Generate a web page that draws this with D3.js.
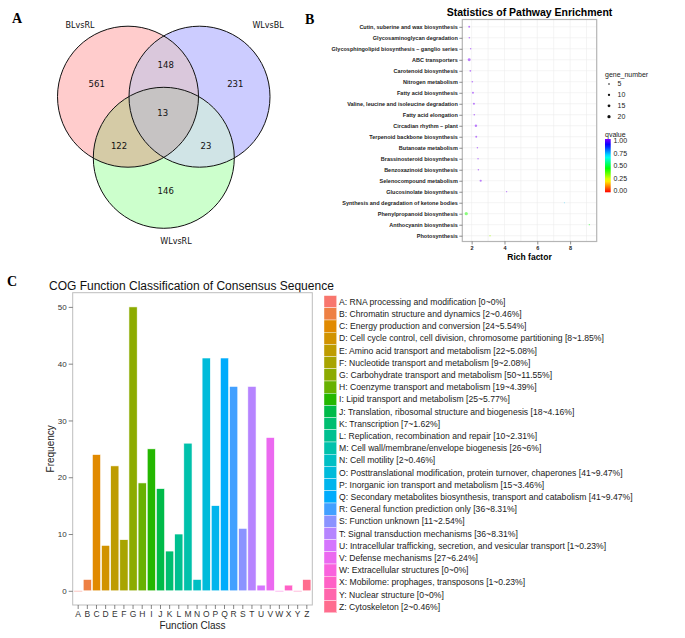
<!DOCTYPE html>
<html>
<head>
<meta charset="utf-8">
<script src="https://cdn.jsdelivr.net/npm/d3@7"></script>
<style>
  body { margin: 0; background: #fff; }
  svg { display: block; }
</style>
</head>
<body>
<script>
// ---- Panel A: Venn counts ----
const vennSets = ["BLvsRL", "WLvsBL", "WLvsRL"];
const vennRegions = ["BLvsRL", "BLvsRL&WLvsBL", "WLvsBL", "all", "BLvsRL&WLvsRL", "WLvsBL&WLvsRL", "WLvsRL"];
const vennCounts = [561, 148, 231, 13, 122, 23, 146];

// ---- Panel B: pathway enrichment ----
const pathways = [
  "Cutin, suberine and wax biosynthesis",
  "Glycosaminoglycan degradation",
  "Glycosphingolipid biosynthesis \u2013 ganglio series",
  "ABC transporters",
  "Carotenoid biosynthesis",
  "Nitrogen metabolism",
  "Fatty acid biosynthesis",
  "Valine, leucine and isoleucine degradation",
  "Fatty acid elongation",
  "Circadian rhythm \u2013 plant",
  "Terpenoid backbone biosynthesis",
  "Butanoate metabolism",
  "Brassinosteroid biosynthesis",
  "Benzoxazinoid biosynthesis",
  "Selenocompound metabolism",
  "Glucosinolate biosynthesis",
  "Synthesis and degradation of ketone bodies",
  "Phenylpropanoid biosynthesis",
  "Anthocyanin biosynthesis",
  "Photosynthesis"
];
const richFactor = [1.85, 1.86, 1.94, 1.85, 1.92, 2.04, 2.08, 2.14, 2.16, 2.26, 2.28, 2.35, 2.39, 2.41, 2.55, 4.13, 7.65, 1.67, 9.17, 3.12];
const geneNumber = [7, 5, 4, 16, 6, 5, 7, 8, 5, 11, 7, 4, 4, 4, 9, 3, 2, 20, 3, 5];
const qvalue = [1, 1, 1, 1, 1, 1, 1, 1, 1, 1, 1, 1, 1, 1, 1, 1, 0.72, 0.42, 0.45, 0.3];
const richTicks = [2, 4, 6, 8];
const sizeLegend = [5, 10, 15, 20];
const qTicks = [0, 0.25, 0.5, 0.75, 1];

// ---- Panel C: COG classes ----
const cogLetters = "ABCDEFGHIJKLMNOPQRSTUVWXYZ".split("");
const cogNames = [
  "RNA processing and modification",
  "Chromatin structure and dynamics",
  "Energy production and conversion",
  "Cell cycle control, cell division, chromosome partitioning",
  "Amino acid transport and metabolism",
  "Nucleotide transport and metabolism",
  "Carbohydrate transport and metabolism",
  "Coenzyme transport and metabolism",
  "Lipid transport and metabolism",
  "Translation, ribosomal structure and biogenesis",
  "Transcription",
  "Replication, recombination and repair",
  "Cell wall/membrane/envelope biogenesis",
  "Cell motility",
  "Posttranslational modification, protein turnover, chaperones",
  "Inorganic ion transport and metabolism",
  "Secondary metabolites biosynthesis, transport and catabolism",
  "General function prediction only",
  "Function unknown",
  "Signal transduction mechanisms",
  "Intracellular trafficking, secretion, and vesicular transport",
  "Defense mechanisms",
  "Extracellular structures",
  "Mobilome: prophages, transposons",
  "Nuclear structure",
  "Cytoskeleton"
];
const cogCounts = [0, 2, 24, 8, 22, 9, 50, 19, 25, 18, 7, 10, 26, 2, 41, 15, 41, 36, 11, 36, 1, 27, 0, 1, 0, 2];
const freqTicks = [0, 10, 20, 30, 40, 50];

const W = 685, H = 638;
const sans = "'Liberation Sans', Arial, sans-serif";

const svg = d3.select("body").append("svg")
  .attr("width", W).attr("height", H)
  .attr("viewBox", [0, 0, W, H])
  .style("font-family", sans);
svg.append("rect").attr("width", W).attr("height", H).attr("fill", "#fff");
const defs = svg.append("defs");

// panel letters
const letters = [["A", 12, 23], ["B", 305, 24], ["C", 7, 286]];
svg.selectAll("text.panel").data(letters).join("text")
  .attr("class", "panel")
  .attr("x", d => d[1]).attr("y", d => d[2])
  .attr("font-family", "'Liberation Serif', 'Times New Roman', serif")
  .attr("font-weight", "bold").attr("font-size", 14)
  .text(d => d[0]);

// ================= Panel A =================
{
  const layout = {
    BLvsRL: { cx: 128, cy: 96.7, r: 70.5, color: "#ffcccc", lx: 80, ly: 28 },
    WLvsBL: { cx: 199.5, cy: 96.7, r: 70.5, color: "#ccccff", lx: 268, ly: 28 },
    WLvsRL: { cx: 163.8, cy: 157.8, r: 70.5, color: "#ccffcc", lx: 176, ly: 244 }
  };
  // blended fills of the overlaps, as seen in the figure
  const overlapFill = [
    { a: "BLvsRL", b: "WLvsBL", color: "#dac8dc" },
    { a: "BLvsRL", b: "WLvsRL", color: "#d5cba6" },
    { a: "WLvsBL", b: "WLvsRL", color: "#d0e4e6" }
  ];
  const textPos = {
    "BLvsRL": [96.7, 84], "BLvsRL&WLvsBL": [165.7, 65], "WLvsBL": [235.3, 84],
    "all": [162.7, 112.7], "BLvsRL&WLvsRL": [119, 146], "WLvsBL&WLvsRL": [206, 146],
    "WLvsRL": [165.7, 191]
  };
  defs.selectAll("clipPath.venn").data(vennSets).join("clipPath")
    .attr("class", "venn").attr("id", d => "clip-" + d)
    .append("circle")
    .attr("cx", d => layout[d].cx).attr("cy", d => layout[d].cy).attr("r", d => layout[d].r);

  const g = svg.append("g").attr("font-family", "'DejaVu Sans', sans-serif");
  g.selectAll("circle.fill").data(vennSets).join("circle")
    .attr("cx", d => layout[d].cx).attr("cy", d => layout[d].cy).attr("r", d => layout[d].r)
    .attr("fill", d => layout[d].color);
  g.selectAll("g.ov").data(overlapFill).join("g")
    .attr("clip-path", d => `url(#clip-${d.a})`)
    .append("circle")
    .attr("cx", d => layout[d.b].cx).attr("cy", d => layout[d.b].cy).attr("r", d => layout[d.b].r)
    .attr("fill", d => d.color);
  g.append("g").attr("clip-path", "url(#clip-BLvsRL)")
    .append("g").attr("clip-path", "url(#clip-WLvsBL)")
    .append("circle")
    .attr("cx", layout.WLvsRL.cx).attr("cy", layout.WLvsRL.cy).attr("r", layout.WLvsRL.r)
    .attr("fill", "#c6c3c3");
  g.selectAll("circle.line").data(vennSets).join("circle")
    .attr("cx", d => layout[d].cx).attr("cy", d => layout[d].cy).attr("r", d => layout[d].r)
    .attr("fill", "none").attr("stroke", "#111").attr("stroke-width", 1);
  g.selectAll("text.set").data(vennSets).join("text")
    .attr("x", d => layout[d].lx).attr("y", d => layout[d].ly)
    .attr("text-anchor", "middle").attr("font-size", 8).attr("fill", "#111")
    .text(d => d);
  g.selectAll("text.count").data(vennRegions).join("text")
    .attr("x", d => textPos[d][0]).attr("y", d => textPos[d][1])
    .attr("dy", "0.35em").attr("text-anchor", "middle").attr("font-size", 8.5).attr("fill", "#111")
    .text((d, i) => vennCounts[i]);
}

// ================= Panel B =================
{
  const left = 462.3, right = 596.7, top = 19.5, bottom = 241.5;
  const x = d3.scaleLinear().domain([1.43, 9.62]).range([left, right]);
  const y = d3.scalePoint().domain(pathways).range([26.8, 235.7]);
  const size = d3.scaleSqrt().domain([0, 22]).range([0, 1.7]);
  const qcolor = q => d3.hsl(q * 270, 1, 0.5).toString();

  const g = svg.append("g");
  g.append("rect").attr("x", left).attr("y", top).attr("width", right - left).attr("height", bottom - top)
    .attr("fill", "#fff");
  // grid
  const gridX = d3.range(2, 10, 1);
  g.selectAll("line.gx").data(gridX).join("line")
    .attr("x1", d => x(d)).attr("x2", d => x(d)).attr("y1", top).attr("y2", bottom)
    .attr("stroke", "#ececec").attr("stroke-width", 0.6);
  g.selectAll("line.gy").data(pathways).join("line")
    .attr("x1", left).attr("x2", right).attr("y1", d => y(d)).attr("y2", d => y(d))
    .attr("stroke", "#ececec").attr("stroke-width", 0.6);
  g.append("rect").attr("x", left).attr("y", top).attr("width", right - left).attr("height", bottom - top)
    .attr("fill", "none").attr("stroke", "#b5b5b5").attr("stroke-width", 1.2);

  // points
  g.selectAll("circle.pt").data(pathways).join("circle")
    .attr("cx", (d, i) => x(richFactor[i])).attr("cy", d => y(d))
    .attr("r", (d, i) => size(geneNumber[i]))
    .attr("fill", (d, i) => qcolor(qvalue[i])).attr("fill-opacity", 0.5);

  // y axis
  const ya = g.append("g").attr("transform", `translate(${left},0)`)
    .call(d3.axisLeft(y).tickSize(3).tickPadding(1.5));
  ya.select(".domain").remove();
  ya.selectAll("line").attr("stroke", "#444").attr("stroke-width", 0.6);
  ya.selectAll("text").attr("font-size", 5.5).attr("font-weight", "bold").attr("fill", "#222")
    .attr("font-family", sans);

  // x axis
  const xa = g.append("g").attr("transform", `translate(0,${bottom})`)
    .call(d3.axisBottom(x).tickValues(richTicks).tickSize(3).tickPadding(2));
  xa.select(".domain").remove();
  xa.selectAll("line").attr("stroke", "#444").attr("stroke-width", 0.6);
  xa.selectAll("text").attr("font-size", 5.5).attr("font-weight", "bold").attr("fill", "#222")
    .attr("font-family", sans);

  g.append("text").attr("x", (left + right) / 2).attr("y", 260)
    .attr("text-anchor", "middle").attr("font-size", 8.5).attr("font-weight", "bold")
    .text("Rich factor");
  g.append("text").attr("x", (left + right) / 2).attr("y", 15.5)
    .attr("text-anchor", "middle").attr("font-size", 10.5).attr("font-weight", "bold")
    .text("Statistics of Pathway Enrichment");

  // legends
  const lg = svg.append("g").attr("transform", "translate(605,0)").attr("font-size", 7).attr("fill", "#222");
  lg.append("text").attr("x", 0).attr("y", 76.5).text("gene_number");
  const ly = d3.scalePoint().domain(sizeLegend).range([84, 116.7]);
  lg.selectAll("circle.sz").data(sizeLegend).join("circle")
    .attr("cx", 4).attr("cy", d => ly(d)).attr("r", d => size(d)).attr("fill", "#111");
  lg.selectAll("text.sz").data(sizeLegend).join("text")
    .attr("x", 12.5).attr("y", d => ly(d)).attr("dy", "0.35em").text(d => d);

  lg.append("text").attr("x", 0).attr("y", 137).text("qvalue");
  const grad = defs.append("linearGradient").attr("id", "qgrad")
    .attr("x1", 0).attr("y1", 1).attr("x2", 0).attr("y2", 0);
  grad.selectAll("stop").data(d3.range(0, 1.0001, 0.05)).join("stop")
    .attr("offset", d => d).attr("stop-color", d => qcolor(d));
  const qy = d3.scaleLinear().domain([0, 1]).range([191, 140.7]);
  lg.append("rect").attr("x", 0).attr("y", 139).attr("width", 5.7).attr("height", 53.3)
    .attr("fill", "url(#qgrad)");
  lg.selectAll("text.q").data(qTicks).join("text")
    .attr("x", 8.5).attr("y", d => qy(d)).attr("dy", "0.35em").text(d => d3.format(".2f")(d));
}

// ================= Panel C =================
{
  const left = 72.7, right = 312.3, top = 292.7, bottom = 605;
  const total = d3.sum(cogCounts);

  // ggplot2 default hue palette (polar LUV)
  function hclColor(h, c, l) {
    const Xn = 95.047, Yn = 100, Zn = 108.883;
    const hr = h * Math.PI / 180;
    const u = c * Math.cos(hr), v = c * Math.sin(hr);
    const Y = l > 8 ? Yn * Math.pow((l + 16) / 116, 3) : Yn * l / 903.3;
    const t = Xn + 15 * Yn + 3 * Zn;
    const up = u / (13 * l) + 4 * Xn / t, vp = v / (13 * l) + 9 * Yn / t;
    const X = Y * 9 * up / (4 * vp);
    const Z = Y * (12 - 3 * up - 20 * vp) / (4 * vp);
    const lin = [
      3.240479 * X - 1.537150 * Y - 0.498535 * Z,
      -0.969256 * X + 1.875992 * Y + 0.041556 * Z,
      0.055648 * X - 0.204043 * Y + 1.057311 * Z
    ].map(a => a / 100);
    const gam = lin.map(a => {
      const s = a <= 0.0031308 ? 12.92 * a : 1.055 * Math.pow(a, 1 / 2.4) - 0.055;
      return Math.round(255 * Math.max(0, Math.min(1, s)));
    });
    return d3.rgb(gam[0], gam[1], gam[2]).toString();
  }
  const n = cogLetters.length;
  const hueStep = (360 - 360 / n) / (n - 1);
  const color = d3.scaleOrdinal().domain(cogLetters)
    .range(cogLetters.map((d, i) => hclColor((15 + i * hueStep) % 360, 100, 65)));

  const x = d3.scaleBand().domain(cogLetters).range([left, right]).paddingInner(0.1).paddingOuter(0.15);
  const y = d3.scaleLinear().domain([-2.5, 52.5]).range([bottom, top]);

  const g = svg.append("g");
  g.append("text").attr("x", 49).attr("y", 290).attr("font-size", 12).attr("fill", "#111")
    .text("COG Function Classification of Consensus Sequence");

  g.append("rect").attr("x", left).attr("y", top).attr("width", right - left).attr("height", bottom - top)
    .attr("fill", "#fff").attr("stroke", "#bdbdbd").attr("stroke-width", 1);

  g.selectAll("rect.bar").data(cogLetters).join("rect")
    .attr("x", d => x(d)).attr("width", x.bandwidth())
    .attr("y", (d, i) => y(cogCounts[i]))
    .attr("height", (d, i) => Math.max(0.7, y(0) - y(cogCounts[i])))
    .attr("fill", d => color(d))
    .attr("stroke", (d, i) => cogCounts[i] === 0 ? "none" : "#fff").attr("stroke-width", 0.6)
    .attr("fill-opacity", (d, i) => cogCounts[i] === 0 ? 0.6 : 1);

  const ya = g.append("g").attr("transform", `translate(${left},0)`)
    .call(d3.axisLeft(y).tickValues(freqTicks).tickSize(4).tickPadding(2));
  ya.select(".domain").remove();
  ya.selectAll("line").attr("stroke", "#333").attr("stroke-width", 0.6);
  ya.selectAll("text").attr("font-size", 8).attr("fill", "#333").attr("font-family", sans);

  const xa = g.append("g").attr("transform", `translate(0,${bottom})`)
    .call(d3.axisBottom(x).tickSize(4).tickPadding(1.5));
  xa.select(".domain").remove();
  xa.selectAll("line").attr("stroke", "#333").attr("stroke-width", 0.6);
  xa.selectAll("text").attr("font-size", 8.5).attr("fill", "#333").attr("font-family", sans);

  g.append("text").attr("x", (left + right) / 2).attr("y", 629)
    .attr("text-anchor", "middle").attr("font-size", 10).attr("fill", "#222").text("Function Class");
  g.append("text").attr("transform", `translate(53.5,${(top + bottom) / 2}) rotate(-90)`)
    .attr("text-anchor", "middle").attr("font-size", 10).attr("fill", "#222").text("Frequency");

  // legend
  const ly = d3.scaleBand().domain(cogLetters).range([295.6, 295.6 + 12.2 * n]);
  const lg = g.append("g");
  lg.selectAll("rect.key").data(cogLetters).join("rect")
    .attr("x", 324).attr("y", d => ly(d)).attr("width", 12.7).attr("height", ly.bandwidth())
    .attr("fill", d => color(d)).attr("stroke", "#fff").attr("stroke-width", 0.4);
  lg.selectAll("text.key").data(cogLetters).join("text")
    .attr("x", 339).attr("y", d => ly(d) + ly.bandwidth() / 2).attr("dy", "0.35em")
    .attr("font-size", 8.6).attr("fill", "#1a1a1a")
    .text((d, i) => {
      const pct = Math.round(cogCounts[i] / total * 10000) / 100;
      return `${d}: ${cogNames[i]} [${cogCounts[i]}~${pct}%]`;
    });
}
</script>
</body>
</html>
